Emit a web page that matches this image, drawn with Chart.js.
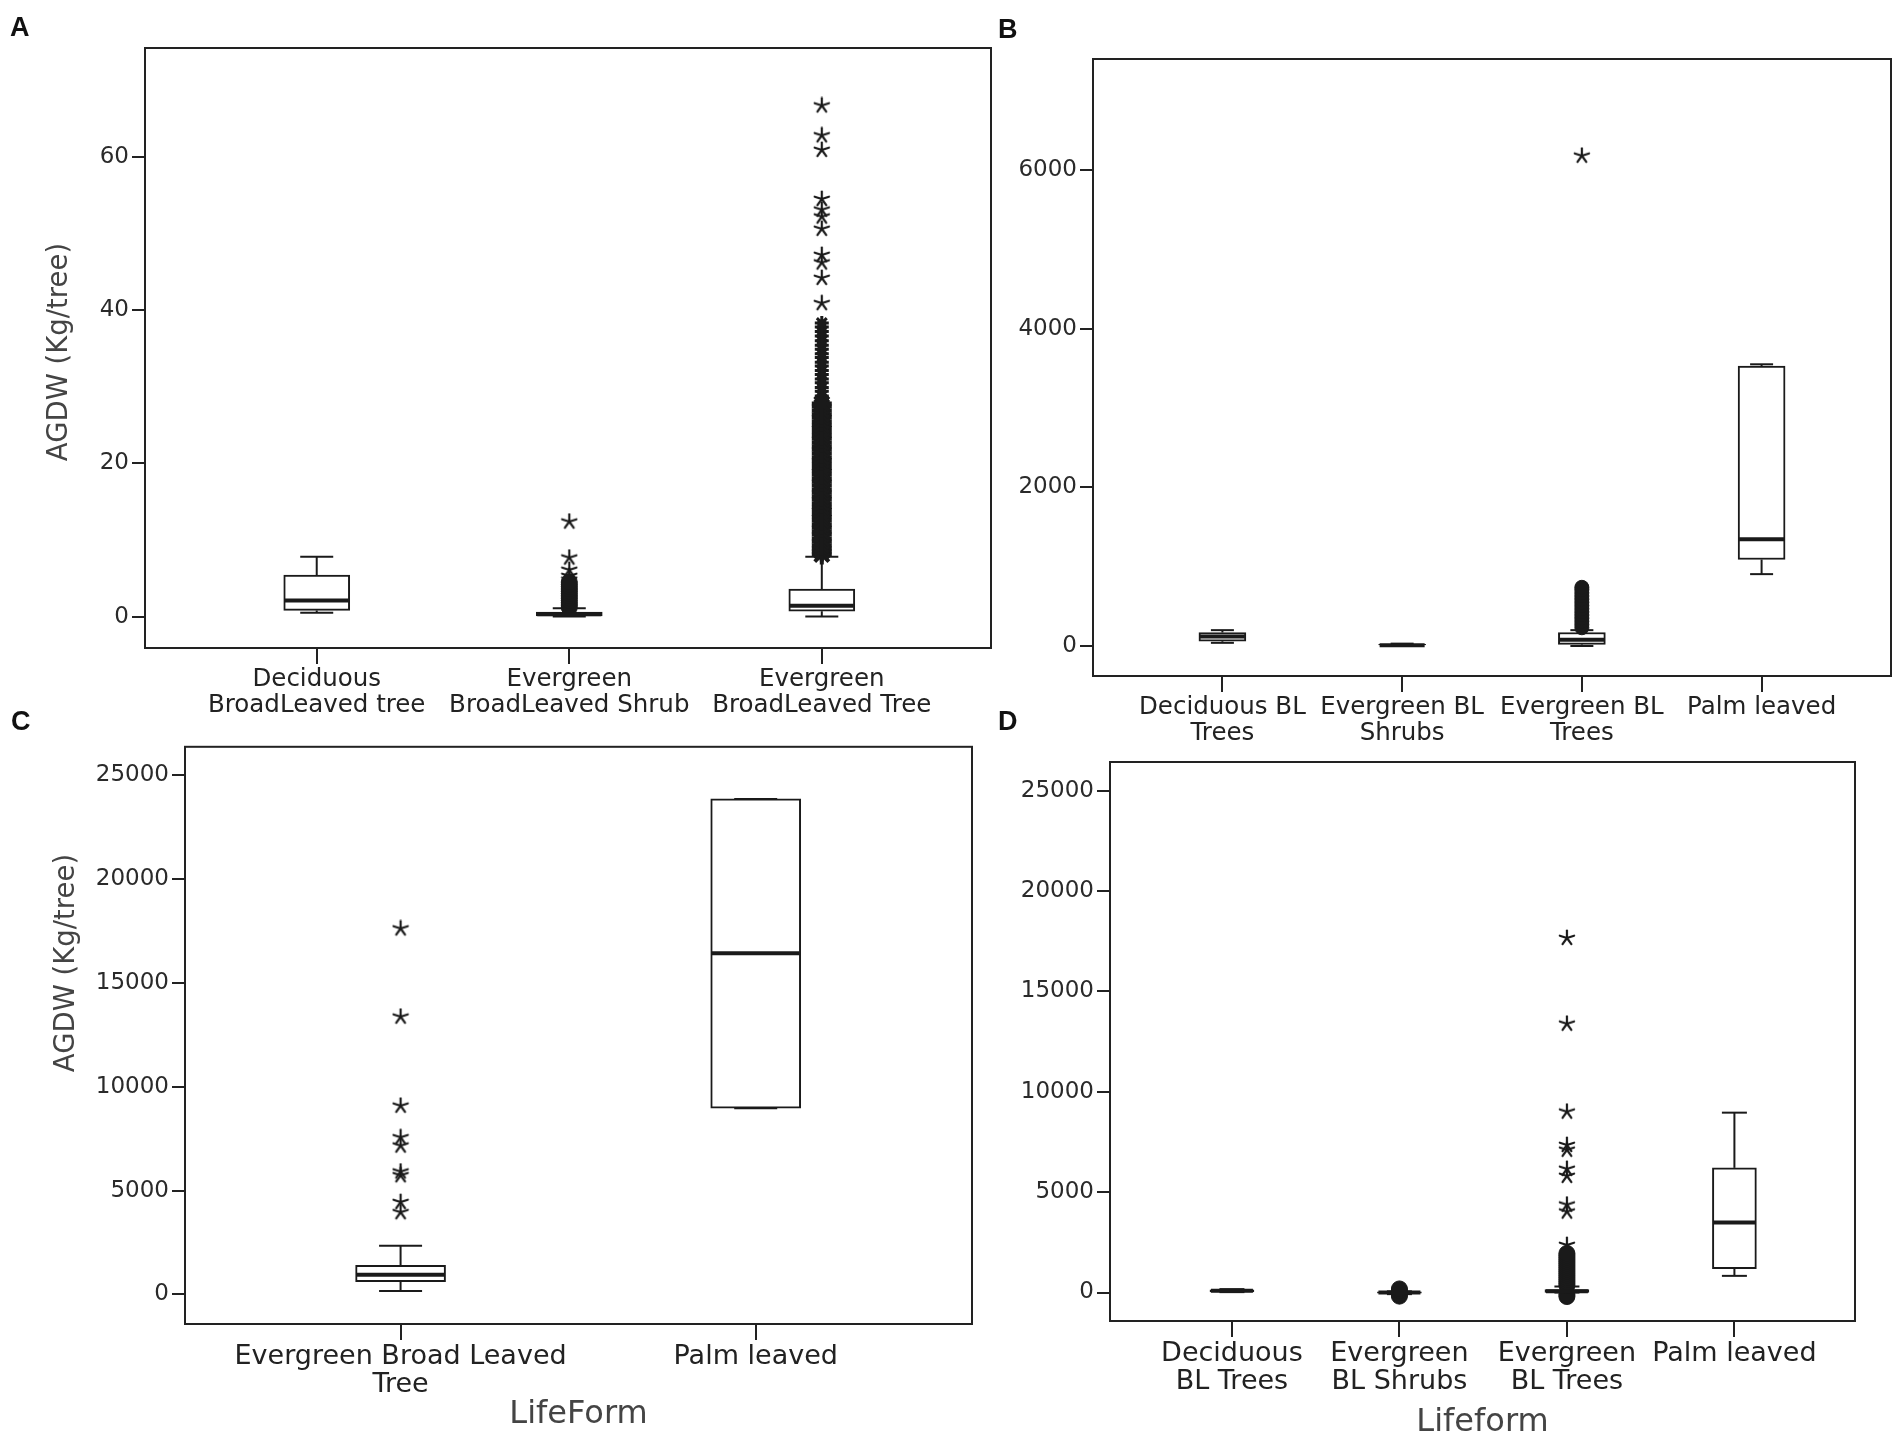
<!DOCTYPE html>
<html>
<head>
<meta charset="utf-8">
<script src="https://cdn.jsdelivr.net/npm/chart.js@4.4.0/dist/chart.umd.min.js"></script>
<style>
  body { margin: 0; background: #fff; width: 1904px; height: 1442px; position: relative; overflow: hidden; }
  canvas { position: absolute; }
  .tag { position: absolute; font: bold 27px 'Liberation Sans', Arial, sans-serif; color: #111; }
</style>
</head>
<body>
<canvas id="chartA" width="1005" height="730" style="left:0;top:0"></canvas>
<canvas id="chartB" width="899" height="760" style="left:1005px;top:0"></canvas>
<canvas id="chartC" width="1000" height="712" style="left:0;top:730px"></canvas>
<canvas id="chartD" width="899" height="712" style="left:1005px;top:730px"></canvas>
<div class="tag" style="left:10px;top:12px">A</div>
<div class="tag" style="left:998px;top:14px">B</div>
<div class="tag" style="left:11px;top:706px">C</div>
<div class="tag" style="left:998px;top:706px">D</div>
<script>
// ---- panel A ----
const catsA = [["Deciduous", "BroadLeaved tree"], ["Evergreen", "BroadLeaved Shrub"], ["Evergreen", "BroadLeaved Tree"]];
const ticksA = [0, 20, 40, 60];
const loA = [0.5, 0.0, 0.0];
const q1A = [0.8, 0.1, 0.7];
const medA = [2.1, 0.3, 1.4];
const q3A = [5.4, 0.6, 3.6];
const hiA = [7.8, 1.1, 7.8];
const denseA2 = [1.2, 1.5, 1.8, 2.1, 2.4, 2.7, 3.0, 3.3, 3.6, 3.9, 4.2, 4.5];
const starsA2 = [4.8, 5.3, 6.1, 7.7, 12.4];
const denseA3 = [8.1, 8.5, 8.9, 9.3, 9.8, 10.2, 10.7, 11.1, 11.6, 12.0, 12.5, 13.0, 13.4, 13.9, 14.3, 14.8,
  15.3, 15.7, 16.2, 16.6, 17.1, 17.6, 18.0, 18.5, 19.0, 19.4, 19.9, 20.4, 20.8, 21.3, 21.8, 22.2, 22.7,
  23.2, 23.6, 24.1, 24.6, 25.0, 25.5, 26.0, 26.4, 26.9, 27.4, 27.8];
const thinA3 = [28.3, 28.8, 29.4, 29.9, 30.5, 31.0, 31.6, 32.1, 32.7, 33.2, 33.8, 34.3, 34.9, 35.4, 36.0,
  36.6, 37.2, 37.8, 38.3];
const starsA3 = [40.9, 44.2, 46.2, 47.2, 50.6, 52.2, 53.1, 54.5, 60.9, 62.8, 66.7];

// ---- panel B ----
const catsB = [["Deciduous BL", "Trees"], ["Evergreen BL", "Shrubs"], ["Evergreen BL", "Trees"], ["Palm leaved"]];
const ticksB = [0, 2000, 4000, 6000];
const loB = [40, 0, 0, 906];
const q1B = [60, 0, 20, 1090];
const medB = [120, 10, 80, 1347];
const q3B = [170, 20, 170, 3527];
const hiB = [200, 30, 200, 3551];
const denseB3 = [230, 270, 310, 350, 390, 430, 470, 510, 550, 590, 630, 670, 710, 740];
const starsB3 = [6180];

// ---- panel C ----
const catsC = [["Evergreen Broad Leaved", "Tree"], ["Palm leaved"]];
const ticksC = [0, 5000, 10000, 15000, 20000, 25000];
const loC = [160, 8970];
const q1C = [610, 8970];
const medC = [950, 16430];
const q3C = [1400, 23870];
const hiC = [2350, 23870];
const starsC1 = [3960, 4450, 5740, 5920, 7170, 7570, 9090, 13380, 17630];

// ---- panel D ----
const catsD = [["Deciduous", "BL Trees"], ["Evergreen", "BL Shrubs"], ["Evergreen", "BL Trees"], ["Palm leaved"]];
const ticksD = [0, 5000, 10000, 15000, 20000, 25000];
const loD = [20, -80, 0, 830];
const q1D = [30, -30, 10, 1185];
const medD = [90, 0, 60, 3484];
const q3D = [140, 30, 150, 6209];
const hiD = [170, 60, 300, 8959];
const circlesD2 = [-180, -100, 100, 180];
const denseD3 = [-200, -100, 350, 450, 550, 650, 750, 850, 950, 1050, 1150, 1250, 1350, 1450, 1550, 1650,
  1750, 1850, 1950];
const starsD3 = [2370, 4030, 4380, 5810, 6160, 7110, 7350, 9010, 13390, 17660];

Chart.defaults.font.family = "'DejaVu Sans', sans-serif";
const INK = "#1a1a1a";

// five-armed asterisk like the SPSS extreme-value marker
const asterisk = document.createElement("canvas");
asterisk.width = 18;
asterisk.height = 18;
(function () {
  const g = asterisk.getContext("2d");
  g.strokeStyle = INK;
  g.lineWidth = 2.2;
  g.lineCap = "round";
  for (let k = 0; k < 5; k++) {
    const ang = -Math.PI / 2 + k * 2 * Math.PI / 5;
    g.beginPath();
    g.moveTo(9, 9);
    g.lineTo(9 + 7.5 * Math.cos(ang), 9 + 7.5 * Math.sin(ang));
    g.stroke();
  }
})();

function pts(idx, vals) {
  return vals.map(v => ({ x: idx, y: v }));
}

function starSet(data, r, bw) {
  return { type: "scatter", data: data, pointStyle: "star", pointRadius: r, borderColor: INK,
           backgroundColor: INK, borderWidth: bw, order: 1 };
}
function astSet(data) {
  return { type: "scatter", data: data, pointStyle: asterisk, pointRadius: 9, order: 1 };
}
function dotSet(data, r) {
  return { type: "scatter", data: data, pointStyle: "circle", pointRadius: r, borderColor: INK,
           backgroundColor: INK, borderWidth: 1, order: 1 };
}

function boxPlot(id, p) {
  const parts = {
    id: "parts",
    beforeDatasetsDraw(chart) {
      const { ctx, scales: { x, y } } = chart;
      ctx.save();
      ctx.strokeStyle = INK;
      ctx.lineWidth = 2;
      p.lo.forEach((lo, i) => {
        const px = x.getPixelForValue(i);
        const seg = (a, b) => {
          ctx.beginPath();
          ctx.moveTo(px, y.getPixelForValue(a));
          ctx.lineTo(px, y.getPixelForValue(b));
          ctx.stroke();
        };
        seg(p.hi[i], p.q3[i]);
        seg(p.q1[i], lo);
        [p.hi[i], lo].forEach(v => {
          const py = y.getPixelForValue(v);
          ctx.beginPath();
          ctx.moveTo(px - p.capW / 2, py);
          ctx.lineTo(px + p.capW / 2, py);
          ctx.stroke();
        });
      });
      ctx.restore();
    },
    afterDatasetsDraw(chart) {
      const { ctx, chartArea: a, scales: { x, y } } = chart;
      ctx.save();
      ctx.strokeStyle = INK;
      ctx.lineWidth = 4;
      p.med.forEach((m, i) => {
        const px = x.getPixelForValue(i), py = y.getPixelForValue(m);
        ctx.beginPath();
        ctx.moveTo(px - p.boxW / 2 + 1, py);
        ctx.lineTo(px + p.boxW / 2 - 1, py);
        ctx.stroke();
      });
      ctx.lineWidth = 2;
      ctx.strokeStyle = "#222";
      ctx.strokeRect(a.left, a.top, a.right - a.left, a.bottom - a.top);
      if (p.yTitle) {
        ctx.translate(p.yTitle.x, p.yTitle.y);
        ctx.rotate(-Math.PI / 2);
        ctx.fillStyle = "#444";
        ctx.font = "27.5px 'DejaVu Sans', sans-serif";
        ctx.textAlign = "center";
        ctx.textBaseline = "middle";
        ctx.fillText(p.yTitle.text, 0, 0);
      }
      ctx.restore();
    }
  };

  const datasets = [{
    type: "bar",
    data: p.cats.map((c, i) => ({ x: i, y: [p.q1[i], p.q3[i]] })),
    backgroundColor: "#fff",
    borderColor: INK,
    borderWidth: 2,
    borderSkipped: false,
    barThickness: p.boxW,
    grouped: false,
    order: 2
  }].concat(p.extra);

  return new Chart(document.getElementById(id), {
    type: "bar",
    data: { datasets: datasets },
    plugins: [parts],
    options: {
      responsive: false,
      animation: false,
      devicePixelRatio: 1,
      events: [],
      layout: { padding: p.pad },
      plugins: { legend: { display: false }, tooltip: { enabled: false } },
      scales: {
        x: {
          type: "linear", min: p.xMin, max: p.xMax, offset: false,
          afterFit: s => { s.height = p.xH; },
          afterBuildTicks: s => { s.ticks = p.cats.map((c, i) => ({ value: i })); },
          grid: { display: true, offset: false, drawOnChartArea: false, drawTicks: true, tickLength: 16, color: "#222", lineWidth: 2 },
          border: { display: true, color: "#222", width: 2 },
          ticks: { autoSkip: false, maxRotation: 0, minRotation: 0, padding: 3, color: "#222",
                   font: { size: p.catSize, lineHeight: p.catLH }, callback: v => p.cats[v] },
          title: p.xTitle ? { display: true, text: p.xTitle, color: "#444", font: { size: 32 }, padding: { top: 0, bottom: p.xTitlePad } } : { display: false }
        },
        y: {
          min: p.yMin, max: p.yMax,
          afterFit: s => { s.width = p.yW; },
          afterBuildTicks: s => { s.ticks = p.yTicks.map(v => ({ value: v })); },
          grid: { display: true, drawOnChartArea: false, drawTicks: true, tickLength: 13, color: "#222", lineWidth: 2 },
          border: { display: true, color: "#222", width: 2 },
          ticks: { autoSkip: false, padding: 3, color: "#2a2a2a", font: { size: 23 }, callback: v => String(v) }
        }
      }
    }
  });
}

boxPlot("chartA", {
  cats: catsA, yTicks: ticksA, yMin: -4.1, yMax: 74.2, xMin: -0.68, xMax: 2.67,
  lo: loA, q1: q1A, med: medA, q3: q3A, hi: hiA, boxW: 66, capW: 33,
  catSize: 24.5, catLH: 1.05,
  pad: { left: 40, top: 48, right: 8, bottom: 0 }, yW: 105, xH: 82,
  yTitle: { text: "AGDW (Kg/tree)", x: 60, y: 352 },
  extra: [
    dotSet(pts(1, denseA2), 8),
    astSet(pts(1, starsA2)),
    starSet(pts(2, denseA3), 10, 4),
    starSet(pts(2, thinA3), 7, 3),
    astSet(pts(2, starsA3))
  ]
});

boxPlot("chartB", {
  cats: catsB, yTicks: ticksB, yMin: -378, yMax: 7399, xMin: -0.72, xMax: 3.72,
  lo: loB, q1: q1B, med: medB, q3: q3B, hi: hiB, boxW: 47, capW: 23,
  catSize: 24.5, catLH: 1.05,
  pad: { left: 0, top: 59, right: 13, bottom: 0 }, yW: 88, xH: 84,
  extra: [
    dotSet(pts(2, denseB3), 7),
    astSet(pts(2, starsB3))
  ]
});

boxPlot("chartC", {
  cats: catsC, yTicks: ticksC, yMin: -1424, yMax: 26381, xMin: -0.607, xMax: 1.609,
  lo: loC, q1: q1C, med: medC, q3: q3C, hi: hiC, boxW: 90, capW: 43,
  catSize: 27, catLH: 1.04,
  pad: { left: 47, top: 8, right: 28, bottom: 0 }, yW: 138, xH: 118,
  xTitle: "LifeForm", xTitlePad: 8,
  yTitle: { text: "AGDW (Kg/tree)", x: 67, y: 233 },
  extra: [
    astSet(pts(0, starsC1))
  ]
});

boxPlot("chartD", {
  cats: catsD, yTicks: ticksD, yMin: -1418, yMax: 26424, xMin: -0.728, xMax: 3.72,
  lo: loD, q1: q1D, med: medD, q3: q3D, hi: hiD, boxW: 44, capW: 25,
  catSize: 27, catLH: 1.04,
  pad: { left: 0, top: 32, right: 49, bottom: 0 }, yW: 105, xH: 121,
  xTitle: "Lifeform", xTitlePad: 0,
  extra: [
    dotSet(pts(1, circlesD2), 8),
    dotSet(pts(2, denseD3), 8),
    astSet(pts(2, starsD3))
  ]
});
</script>
</body>
</html>
